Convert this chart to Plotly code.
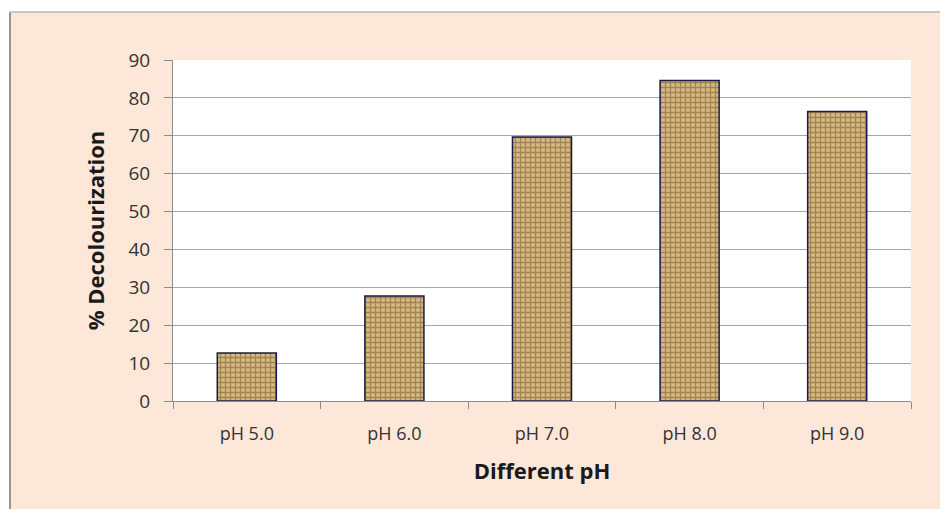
import plotly.graph_objects as go

categories = ["pH 5.0", "pH 6.0", "pH 7.0", "pH 8.0", "pH 9.0"]
decolourization = [12.7, 27.7, 69.7, 84.6, 76.4]
y_ticks = [0, 10, 20, 30, 40, 50, 60, 70, 80, 90]

# the page body adds an 8px offset, so the figure is 8px smaller each way
W, H = 940, 501
ML, MR, MT, MB = 165, 37, 52, 108
PW, PH = W - ML - MR, H - MT - MB


def px(x):
    return (x - ML) / PW


def py(y):
    return 1 - (y - MT) / PH


fig = go.Figure(
    go.Bar(
        x=categories,
        y=decolourization,
        width=0.4,
        marker=dict(
            color="#C4A466",
            line=dict(color="#1C1A4A", width=1.5),
            pattern=dict(shape="+", fgcolor="#6A4D26", bgcolor="#D6BA80",
                         size=5, solidity=0.45, fillmode="overlay"),
        ),
        hoverinfo="x+y",
    )
)

peach = "#FCE7D9"
fig.update_layout(
    width=W, height=H,
    margin=dict(l=ML, r=MR, t=MT, b=MB),
    paper_bgcolor=peach,
    plot_bgcolor="white",
    showlegend=False,
    font=dict(family="Open Sans", color="#3A3A3A"),
    shapes=[
        dict(type="rect", xref="paper", yref="paper", x0=px(-5), x1=px(2),
             y0=py(H + 5), y1=py(-5), fillcolor="white", line_width=0, layer="above"),
        dict(type="rect", xref="paper", yref="paper", x0=px(-5), x1=px(W + 5),
             y0=py(3.5), y1=py(-5), fillcolor="white", line_width=0, layer="above"),
        dict(type="line", xref="paper", yref="paper", x0=px(2), x1=px(2),
             y0=py(4), y1=py(H + 5), line=dict(color="#9A9490", width=2), layer="above"),
        dict(type="line", xref="paper", yref="paper", x0=px(2), x1=px(W + 5),
             y0=py(4), y1=py(4), line=dict(color="#BDB8B4", width=1.5), layer="above"),
    ],
)

fig.update_xaxes(
    showline=True, linecolor="#8C8C8C", linewidth=1,
    ticks="outside", tickson="boundaries", ticklen=7, tickcolor="#8C8C8C",
    tickfont=dict(size=18, color="#333333"), ticklabelstandoff=16,
    title=dict(text="<b>Different pH</b>", font=dict(size=22, color="#1A1A1A"), standoff=20),
    showgrid=False,
)
fig.update_yaxes(
    range=[0, 90], tickvals=y_ticks,
    showline=True, linecolor="#8C8C8C", linewidth=1,
    ticks="outside", ticklen=8, tickcolor="#8C8C8C",
    tickfont=dict(size=19, color="#333333"), ticklabelstandoff=10,
    showgrid=True, gridcolor="#A6A6A6", gridwidth=1,
    title=dict(text="<b>% Decolourization</b>", font=dict(size=22, color="#1A1A1A"), standoff=17),
    zeroline=False,
)

fig.write_html("out.html")
